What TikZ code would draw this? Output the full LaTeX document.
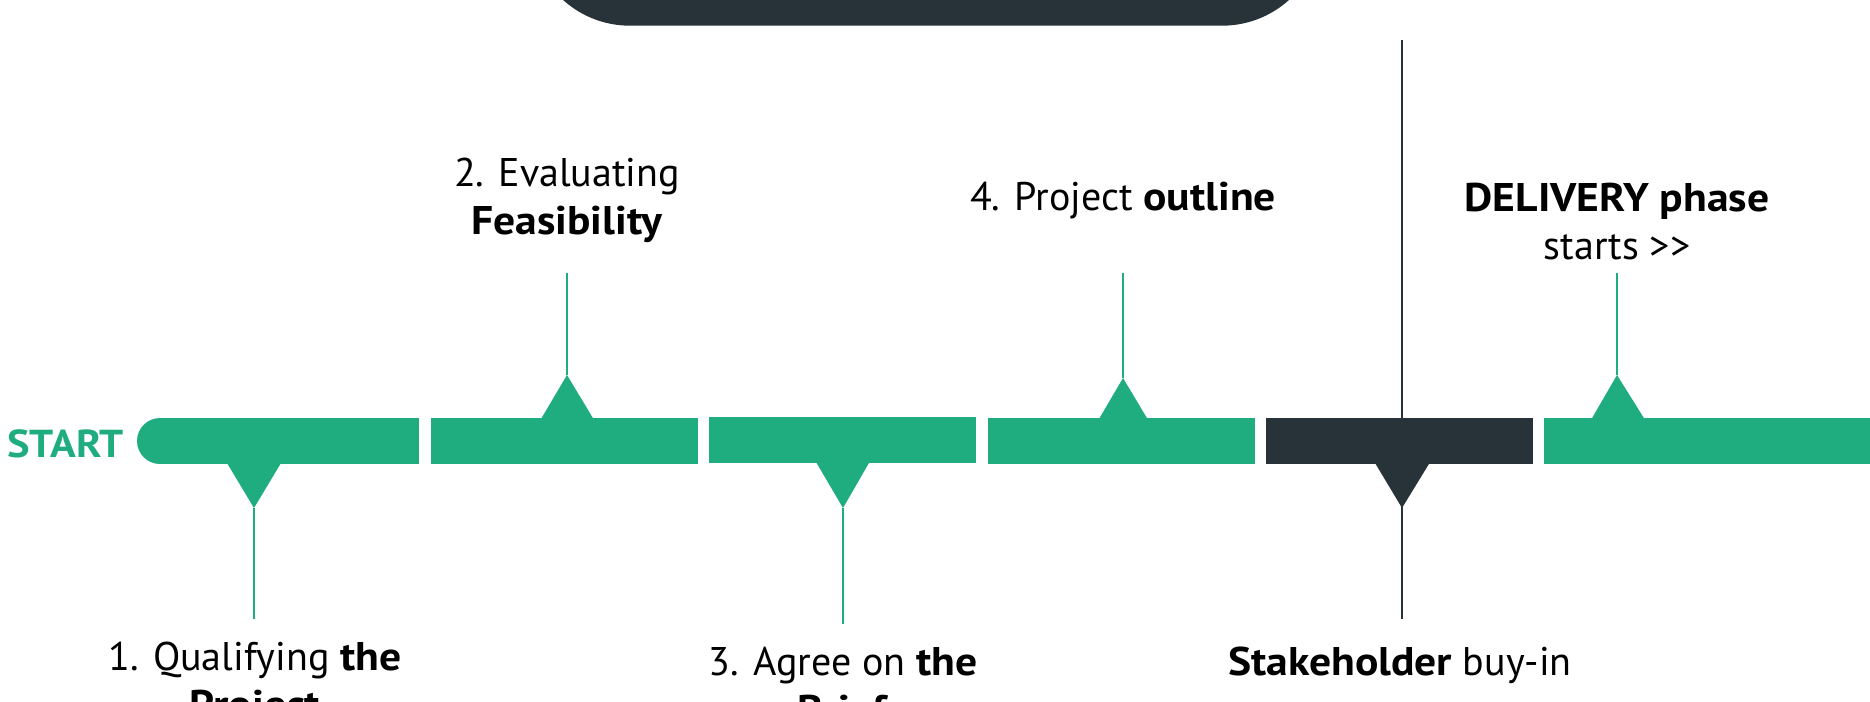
\documentclass[tikz,border=0pt]{standalone}
\usepackage{fontspec}
\setmainfont{PT Sans}[BoldFeatures={FakeStretch=1.09}]
\definecolor{tlgreen}{RGB}{31,173,128}
\definecolor{tldark}{RGB}{40,51,57}
\begin{document}
\begin{tikzpicture}[x=1pt,y=-1pt,
  barbox/.style={rectangle, inner sep=0pt, outer sep=0pt, minimum height=46pt, anchor=north west, fill=tlgreen},
  darkbar/.style={barbox, fill=tldark},
  gline/.style={draw=tlgreen, line width=2pt},
  dline/.style={draw=tldark, line width=2pt},
  lbl/.style={font=\fontsize{40}{48.5}\selectfont, inner sep=0pt, align=center, anchor=base},
  startlbl/.style={font=\fontsize{39}{48}\selectfont\bfseries, text=tlgreen, inner sep=0pt, anchor=base west}
]
\useasboundingbox (0,0) rectangle (1870,701);
\clip (0,0) rectangle (1870,701);

% top dark rounded box (cut by the edge)
\fill[tldark, rounded corners=100pt] (530,-300) rectangle (1322,25.7);

% bars
\fill[tlgreen] (160,441) circle[radius=23pt];
\node[barbox, minimum width=259pt] (bar1) at (160,418) {};
\node[barbox, minimum width=266.7pt] (bar2) at (431,418) {};
\node[barbox, minimum width=267pt] (bar3) at (709,417) {};
\node[barbox, minimum width=267pt] (bar4) at (988,418) {};
\node[darkbar, minimum width=267pt] (bar5) at (1266,418) {};
\node[barbox, minimum width=330pt] (bar6) at (1544,418) {};

% triangles (markers)
\coordinate (t1) at (254,508);
\coordinate (t2) at (567,375);
\coordinate (t3) at (843,508);
\coordinate (t4) at (1123,378);
\coordinate (t5) at (1402,508);
\coordinate (t6) at (1617,375);
\fill[tlgreen] (227,463) -- (t1) -- (281,463) -- cycle;
\fill[tlgreen] (541,419) -- (t2) -- (593.5,419) -- cycle;
\fill[tlgreen] (816,462) -- (t3) -- (869.5,462) -- cycle;
\fill[tlgreen] (1099,419) -- (t4) -- (1147.5,419) -- cycle;
\fill[tldark] (1375,463) -- (t5) -- (1429.5,463) -- cycle;
\fill[tlgreen] (1591.5,419) -- (t6) -- (1644.5,419) -- cycle;

% connector ends
\coordinate (e1) at (254,619);
\coordinate (e2) at (567,273);
\coordinate (e3) at (843,624);
\coordinate (e4) at (1123,273);
\coordinate (e5a) at (1402,40);
\coordinate (e5b) at (1402,619);
\coordinate (e6) at (1617,273);

\draw[gline] (t1) -- (e1);
\draw[gline] (t2) -- (e2);
\draw[gline] (t3) -- (e3);
\draw[gline] (t4) -- (e4);
\draw[dline] (e5a) -- (e5b);
\draw[gline] (t6) -- (e6);

% labels (multi-line nodes: base = last line's baseline)
\node[startlbl] (start) at (7,457) {START};
\node[lbl] (l1) at (255,718.5) {1. Qualifying \textbf{the}\\\textbf{Project}};
\node[lbl] (l2) at (567,234.5) {2. Evaluating\\\textbf{Feasibility}};
\node[lbl] (l3) at (843,723.5) {3. Agree on \textbf{the}\\\textbf{Brief}};
\node[lbl] (l4) at (1123,210) {4. Project \textbf{outline}};
\node[lbl] (l5) at (1400,675) {\textbf{Stakeholder} buy-in};
\node[lbl] (l6) at (1617,259.5) {\textbf{DELIVERY phase}\\starts >{}>};
\end{tikzpicture}
\end{document}
